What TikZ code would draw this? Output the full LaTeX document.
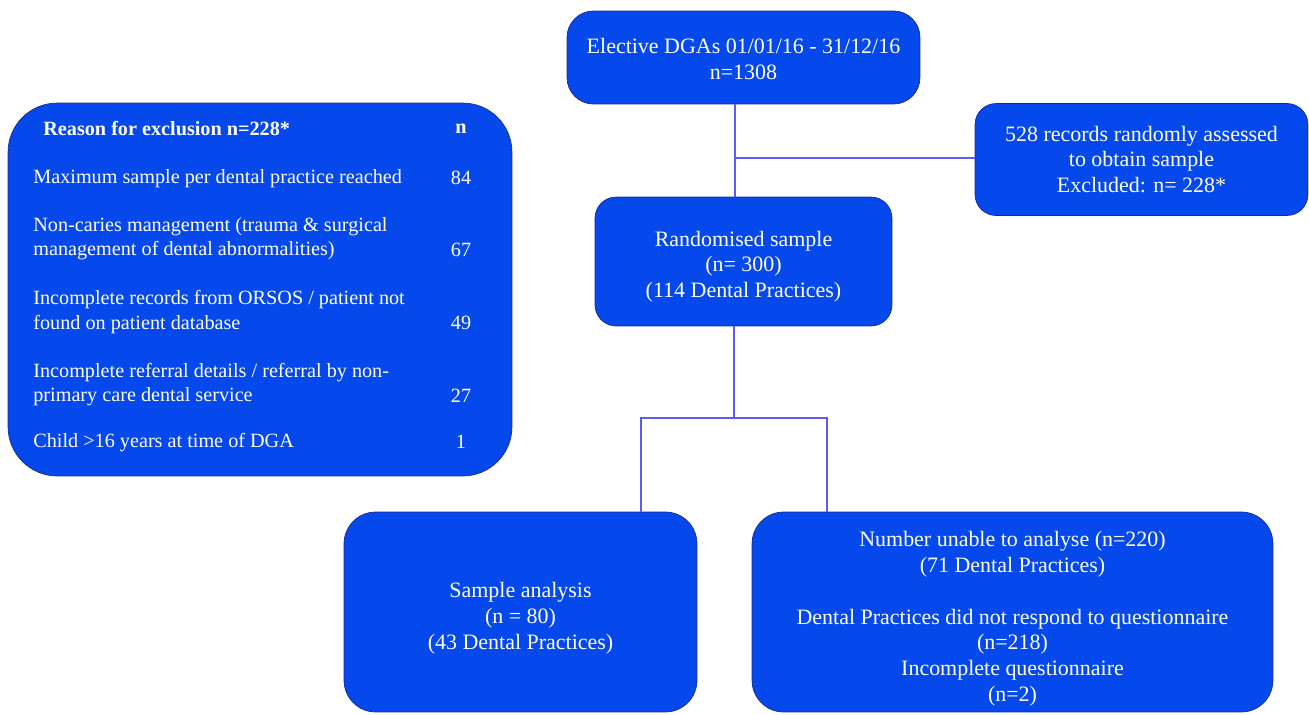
\documentclass[tikz,border=0pt]{standalone}
\usepackage{fontspec}
\setmainfont{Liberation Serif}
\usetikzlibrary{positioning}
\begin{document}
\begin{tikzpicture}[x=0.02cm, y=-0.02cm]
  % Colors
  \definecolor{boxcol}{RGB}{5,72,235}
  \definecolor{edgecol}{RGB}{25,40,150}
  \definecolor{linkcol}{RGB}{90,90,245}
  %
  \def\lx{33}
  \def\nx{461}
  \def\ts#1{\rule{0pt}{#1pt}}% top strut, pushes text down
  %
  \tikzset{
    fbox/.style={draw=edgecol, thin, fill=boxcol, text=white, align=center,
                 font=\fontsize{12.5}{14.7}\selectfont, inner sep=2pt},
    link/.style={draw=linkcol, line width=1.6pt},
    rtext/.style={text=white, align=left, anchor=west, inner sep=0pt,
                  font=\fontsize{11.5}{13.7}\selectfont},
    rnum/.style={text=white, anchor=center, inner sep=0pt,
                 font=\fontsize{11.5}{13.7}\selectfont},
  }
  \useasboundingbox (0,0) rectangle (1309,714);
  %
  %%% JUNCTIONS %%%
  \coordinate (j1) at (735,158);
  \coordinate (j2) at (734,418);
  \coordinate (sl) at (641,418);
  \coordinate (sr) at (827,418);
  %
  %%% BOXES %%%
  \node[fbox, rounded corners=15pt, minimum width=7.06cm, minimum height=1.86cm] (dga) at (743.5,57.5)
    {\ts{10}Elective DGAs 01/01/16 - 31/12/16\\n=1308};
  \node[fbox, rounded corners=12pt, minimum width=6.66cm, minimum height=2.24cm] (excl) at (1141.5,159.5)
    {528 records randomly assessed\\to obtain sample\\Excluded: n= 228*};
  \node[fbox, rounded corners=12pt, minimum width=5.94cm, minimum height=2.58cm] (rand) at (743.5,261.5)
    {\ts{14.5}Randomised sample\\(n= 300)\\(114 Dental Practices)};
  \node[fbox, rounded corners=18pt, minimum width=7.06cm, minimum height=4.0cm] (anal) at (520.5,612)
    {\ts{15.5}Sample analysis\\(n = 80)\\(43 Dental Practices)};
  \node[fbox, rounded corners=18pt, minimum width=10.42cm, minimum height=4.0cm] (unab) at (1012.5,612)
    {\ts{16.5}Number unable to analyse (n=220)\\(71 Dental Practices)\\[14.7pt]Dental Practices did not respond to questionnaire\\(n=218)\\Incomplete questionnaire\\(n=2)};
  %
  %%% CONNECTORS %%%
  \draw[link] (dga.south -| j1) -- (rand.north -| j1);
  \draw[link] (j1) -- (j1 -| excl.west);
  \draw[link] (rand.south -| j2) -- (j2);
  \draw[link] (anal.north -| sl) -- (sl) -- (sr) -- (unab.north -| sr);
  %
  %%% REASONS FOR EXCLUSION %%%
  \node[draw=edgecol, thin, fill=boxcol, rounded corners=28pt, minimum width=10.08cm,
        minimum height=7.46cm] (reas) at (260,289.5) {};
  \node[rtext, font=\fontsize{11.5}{13.7}\selectfont\bfseries] (rhead) at (43,129) {Reason for exclusion n=228*};
  \node[rnum, font=\fontsize{11.5}{13.7}\selectfont\bfseries] (nhead) at (\nx,129) {n};
  \foreach \n/\ty/\ny/\txt/\num in {
    1/179/178/{Maximum sample per dental practice reached}/84,
    2/239/250/{Non-caries management (trauma \& surgical\\management of dental abnormalities)}/67,
    3/312/323/{Incomplete records from ORSOS / patient not\\found on patient database}/49,
    4/385/396/{Incomplete referral details / referral by non-\\primary care dental service}/27,
    5/443/442/{Child >16 years at time of DGA}/1%
  } {
    \node[rtext] (r\n) at (\lx,\ty) {\txt};
    \node[rnum] (n\n) at (\nx,\ny) {\num};
  }
\end{tikzpicture}
\end{document}
